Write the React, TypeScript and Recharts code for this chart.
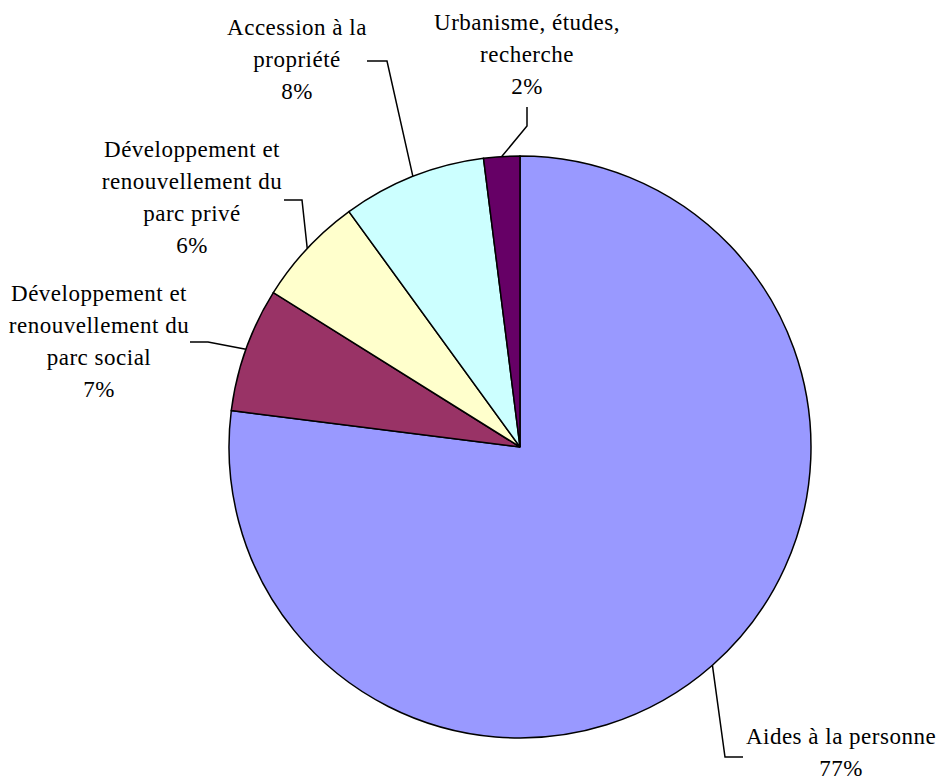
import { PieChart, Pie, Cell } from 'recharts'

// part des dépenses par poste (en %)
const categories = [
  'Aides à la personne',
  'Développement et\nrenouvellement du\nparc social',
  'Développement et\nrenouvellement du\nparc privé',
  'Accession à la\npropriété',
  'Urbanisme, études,\nrecherche',
]
const shares = [77.0, 6.9, 6.1, 8.0, 2.0]
const colors = ['#9999FF', '#993366', '#FFFFCC', '#CCFFFF', '#660066']

// placement des étiquettes, relatif au centre du camembert
// elbow: coude de la ligne de rappel, end: bout de la ligne, text: centre x / 1re ligne de base
const labelLayout = [
  { elbow: [205, 310], end: [223, 310], text: [321, 297] },
  { elbow: [-312, -105], end: [-330, -105], text: [-421, -146] },
  { elbow: [-218, -247], end: [-236, -247], text: [-328, -290] },
  { elbow: [-133, -386], end: [-153, -386], text: [-223, -412] },
  { elbow: [7, -321], end: [7, -340], text: [7, -417] },
]

const data = categories.map((name, i) => ({ name, value: shares[i] }))

const RAD = Math.PI / 180
const FONT = '"Liberation Serif", "Times New Roman", serif'

function renderLabel(props: any) {
  const { cx, cy, midAngle, outerRadius, index, name, percent } = props
  const lay = labelLayout[index]
  const sx = cx + outerRadius * Math.cos(-midAngle * RAD)
  const sy = cy + outerRadius * Math.sin(-midAngle * RAD)
  const ex = cx + lay.elbow[0]
  const ey = cy + lay.elbow[1]
  const tx = cx + lay.end[0]
  const ty = cy + lay.end[1]
  const lines = [...String(name).split('\n'), `${Math.round(percent * 100)}%`]
  return (
    <g key={`lbl-${index}`}>
      <path d={`M${sx},${sy}L${ex},${ey}L${tx},${ty}`} stroke="#000" strokeWidth={1.5} fill="none" />
      <text
        x={cx + lay.text[0]}
        y={cy + lay.text[1]}
        textAnchor="middle"
        fontFamily={FONT}
        fontSize={23}
        letterSpacing={0.5}
        fill="#000"
      >
        {lines.map((l, j) => (
          <tspan key={j} x={cx + lay.text[0]} dy={j === 0 ? 0 : 32}>
            {l}
          </tspan>
        ))}
      </text>
    </g>
  )
}

export default function App() {
  return (
    <div style={{ position: 'absolute', left: 0, top: 0, width: 939, height: 780, background: '#fff' }}>
      <PieChart width={939} height={780} margin={{ top: 0, right: 0, bottom: 0, left: 0 }}>
        <Pie
          data={data}
          dataKey="value"
          nameKey="name"
          cx={520}
          cy={447}
          outerRadius={291}
          startAngle={90}
          endAngle={-270}
          stroke="#000"
          strokeWidth={1.5}
          label={renderLabel}
          labelLine={false}
          isAnimationActive={false}
        >
          {data.map((d, i) => (
            <Cell key={d.name} fill={colors[i]} />
          ))}
        </Pie>
      </PieChart>
    </div>
  )
}
